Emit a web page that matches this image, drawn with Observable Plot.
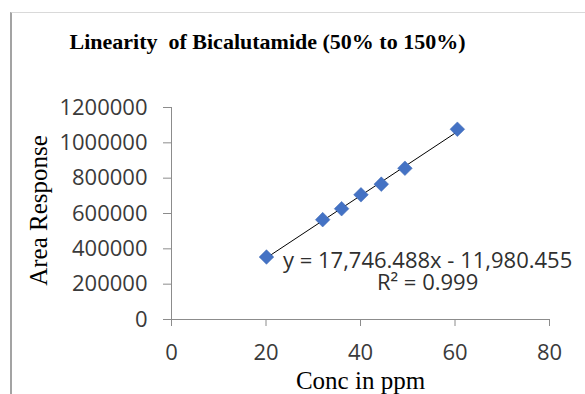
<!DOCTYPE html>
<html>
<head>
<meta charset="utf-8">
<script src="https://cdn.jsdelivr.net/npm/d3@7"></script>
<script src="https://cdn.jsdelivr.net/npm/@observablehq/plot@0.6"></script>
<style>
  html, body { margin: 0; padding: 0; background: #fff; }
  #wrap { position: relative; width: 585px; height: 394px; overflow: hidden; background: #fff; }
  #frame { position: absolute; left: 10px; top: 12px; right: -5px; bottom: -5px;
           border-left: 2px solid #a3a3a3; border-top: 1px solid #d9d9d9; }
  #title { position: absolute; left: 0; top: 31px; width: 535px; text-align: center;
           font-family: "Liberation Serif", "Times New Roman", serif; font-weight: bold;
           font-size: 22px; line-height: 22px; color: #000; white-space: pre; }
  #chart { position: absolute; left: 0; top: 60px; }
  #chart svg g[aria-label="x-axis tick"] path,
  #chart svg g[aria-label="y-axis tick"] path { stroke: #8c8c8c; }
  #chart svg g[aria-label="x-axis tick label"],
  #chart svg g[aria-label="y-axis tick label"] { fill: #3a3a3a; }
</style>
</head>
<body>
<div id="wrap">
  <div id="frame"></div>
  <div id="title"></div>
  <div id="chart"></div>
</div>
<script>
// ---- data ----
const titleText = "Linearity  of Bicalutamide (50% to 150%)";
const xLabel = "Conc in ppm";
const yLabel = "Area Response";
const conc = [20.1, 32.0, 36.0, 40.1, 44.4, 49.4, 60.5];
const area = [353700, 565000, 627000, 706000, 766000, 856000, 1077000];
const xTicks = [0, 20, 40, 60, 80];
const yTicks = [0, 200000, 400000, 600000, 800000, 1000000, 1200000];
const equationLines = ["y = 17,746.488x - 11,980.455", "R\u00b2 = 0.999"];
const equationAt = [{x: 54.2, y: 270000}];

// ---- build ----
document.getElementById("title").textContent = titleText;
const points = conc.map((c, i) => ({conc: c, area: area[i]}));
const sans = "'Open Sans', 'Noto Sans', sans-serif";
const serif = "'Liberation Serif', 'Times New Roman', serif";

const chart = Plot.plot({
  width: 585,
  height: 334,
  marginLeft: 171,
  marginRight: 36,
  marginTop: 47,
  marginBottom: 75,
  style: {fontFamily: sans, fontSize: "22px", color: "#3a3a3a", background: "transparent", overflow: "visible"},
  x: {domain: [0, 80], ticks: xTicks, tickSize: 7, tickPadding: 18, label: null, tickFormat: d => String(d)},
  y: {domain: [0, 1200000], ticks: yTicks, tickSize: 8, tickPadding: 16, label: null, tickFormat: d => String(d)},
  marks: [
    Plot.ruleX([0], {y1: 0, y2: 1200000, stroke: "#8c8c8c"}),
    Plot.ruleY([0], {x1: 0, x2: 80, stroke: "#8c8c8c"}),
    Plot.linearRegressionY(points, {x: "conc", y: "area", stroke: "#000", strokeWidth: 1, ci: 0}),
    Plot.dot(points, {x: "conc", y: "area", symbol: "diamond2", r: 6.6, fill: "#4472c4", stroke: "#3e68b5", strokeWidth: 0.5}),
    Plot.text(equationAt, {x: "x", y: "y", text: () => equationLines.join("\n"), lineHeight: 1.0,
      textAnchor: "middle", fontFamily: sans, fontSize: 22, fill: "#2f2f2f"}),
    Plot.text([xLabel], {frameAnchor: "bottom", textAnchor: "middle", dy: 69, fontFamily: serif, fontSize: 25, fill: "#000"}),
    Plot.text([yLabel], {frameAnchor: "left", textAnchor: "middle", dx: -132.5, dy: -3, rotate: -90, fontFamily: serif, fontSize: 25, fill: "#000"})
  ]
});
document.getElementById("chart").appendChild(chart);
</script>
</body>
</html>
